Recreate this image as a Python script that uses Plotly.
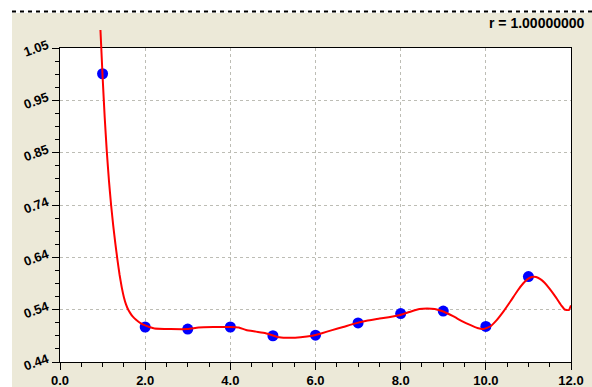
import plotly.graph_objects as go

# Measured samples
sample_x = [1, 2, 3, 4, 5, 6, 7, 8, 9, 10, 11]
sample_y = [1.000, 0.508, 0.504, 0.508, 0.491, 0.492, 0.516, 0.534, 0.539, 0.509, 0.606]

# Fitted curve, sampled along x
curve_x = [0.95, 1.0, 1.05, 1.1, 1.15, 1.2, 1.25, 1.3, 1.35, 1.4, 1.45, 1.5, 1.55, 1.6,
           1.65, 1.7, 1.8, 1.9, 2.0, 2.1, 2.22, 2.6, 3.0, 3.25, 3.6, 4.0, 4.2, 4.37, 4.6,
           4.83, 5.15, 5.4, 5.65, 5.92, 6.15, 6.39, 6.65, 6.94, 7.2, 7.48, 7.97, 8.2, 8.44,
           8.62, 8.8, 9.0, 9.23, 9.45, 9.63, 9.8, 9.95, 10.1, 10.25, 10.42, 10.58, 10.74,
           10.88, 10.98, 11.08, 11.18, 11.28, 11.38, 11.5, 11.65, 11.78, 11.85, 11.95, 12.0]
curve_y = [1.085, 0.995, 0.915, 0.848, 0.792, 0.745, 0.705, 0.670, 0.638, 0.609, 0.585, 0.566,
           0.552, 0.542, 0.535, 0.529, 0.521, 0.515, 0.511, 0.508, 0.505, 0.504, 0.504, 0.507,
           0.508, 0.508, 0.507, 0.502, 0.499, 0.496, 0.488, 0.487, 0.488, 0.491, 0.496, 0.502,
           0.508, 0.515, 0.520, 0.524, 0.531, 0.537, 0.543, 0.544, 0.543, 0.538, 0.529, 0.519,
           0.512, 0.506, 0.504, 0.509, 0.521, 0.539, 0.558, 0.578, 0.593, 0.601, 0.605, 0.605,
           0.601, 0.594, 0.582, 0.565, 0.549, 0.542, 0.541, 0.550]

x_ticks = [0, 2, 4, 6, 8, 10, 12]
x_labels = ["0.0", "2.0", "4.0", "6.0", "8.0", "10.0", "12.0"]
y_labels = ["0.44", "0.54", "0.64", "0.74", "0.85", "0.95", "1.05"]
y_min, y_max = 0.44, 1.05
x_min, x_max = 0.0, 12.0
r_text = "r = 1.00000000"

W, H = 592, 387
ML, MR, MT, MB = 60, 21, 20, 25
plot_w = W - ML - MR
plot_h = H - MT - MB
frame_top_px = 48  # top edge of the framed value area


def px_x(px):
    return (px - ML) / plot_w


def px_y(py):
    return (H - MB - py) / plot_h


y_frac = px_y(frame_top_px)
y_step = (y_max - y_min) / (len(y_labels) - 1)
y_ticks = [y_min + k * y_step for k in range(len(y_labels))]
y2_max = y_min + (y_max - y_min) / y_frac

BEIGE = "#ECE9D8"
GRID = "#BDBDB5"
FONT = "Liberation Sans, Arial, sans-serif"
tick_font = dict(family=FONT, size=13, color="black", weight="bold")

fig = go.Figure()

fig.add_trace(go.Scatter(
    x=sample_x, y=sample_y, mode="markers",
    marker=dict(color="#0000FF", size=11, line=dict(width=0)),
    xaxis="x", yaxis="y", showlegend=False, hoverinfo="skip",
))

fig.add_trace(go.Scatter(
    x=curve_x, y=curve_y, mode="lines",
    line=dict(color="#FF0000", width=2, shape="spline", smoothing=0.4),
    xaxis="x2", yaxis="y2", showlegend=False, hoverinfo="skip",
))

fig.update_layout(
    template="none",
    width=W, height=H,
    margin=dict(l=ML, r=MR, t=MT, b=MB, autoexpand=False),
    paper_bgcolor="white",
    plot_bgcolor="rgba(0,0,0,0)",
    xaxis=dict(
        domain=[0, 1], range=[x_min, x_max], anchor="y", automargin=False,
        tickvals=x_ticks, ticktext=x_labels, tickfont=tick_font,
        ticklabelstandoff=-1,
        ticks="outside", ticklen=7, tickcolor="black", tickwidth=1,
        showline=True, linecolor="black", linewidth=1, mirror=True,
        showgrid=True, gridcolor=GRID, griddash="3px,3px", gridwidth=1,
        zeroline=False,
        minor=dict(dtick=0.5, tick0=0, ticks="outside", ticklen=4,
                   tickcolor="black", tickwidth=1, showgrid=False),
    ),
    yaxis=dict(
        domain=[0, y_frac], range=[y_min, y_max], anchor="x", automargin=False,
        tickvals=y_ticks, ticktext=y_labels, tickfont=tick_font, tickangle=-20,
        ticklabelshift=-4, ticklabelstandoff=2,
        ticks="outside", ticklen=7, tickcolor="black", tickwidth=1,
        showline=True, linecolor="black", linewidth=1, mirror=True,
        showgrid=True, gridcolor=GRID, griddash="3px,3px", gridwidth=1,
        zeroline=False,
        minor=dict(dtick=y_step / 4, tick0=y_min, ticks="outside", ticklen=4,
                   tickcolor="black", tickwidth=1, showgrid=False),
    ),
    xaxis2=dict(domain=[0, 1], range=[x_min, x_max], anchor="y2", visible=False),
    yaxis2=dict(domain=[0, 1], range=[y_min, y2_max], anchor="x2", visible=False),
    shapes=[
        # beige panel
        dict(type="rect", xref="paper", yref="paper", layer="below",
             x0=px_x(12), x1=px_x(W + 2), y0=px_y(H + 2), y1=px_y(13),
             fillcolor=BEIGE, line=dict(width=0)),
        # white value area
        dict(type="rect", xref="x", yref="y", layer="below",
             x0=x_min, x1=x_max, y0=y_min, y1=y_max,
             fillcolor="white", line=dict(width=0)),
        # dashed rule across the top of the panel
        dict(type="line", xref="paper", yref="paper", layer="above",
             x0=px_x(12), x1=px_x(W), y0=px_y(11.5), y1=px_y(11.5),
             line=dict(color="black", width=2, dash="4px,4px")),
    ],
    annotations=[
        dict(text=r_text, xref="paper", yref="paper", x=px_x(587), y=px_y(23),
             xanchor="right", yanchor="middle", showarrow=False,
             font=dict(family=FONT, size=14, color="black", weight="bold")),
    ],
)

fig.write_html("out.html")
